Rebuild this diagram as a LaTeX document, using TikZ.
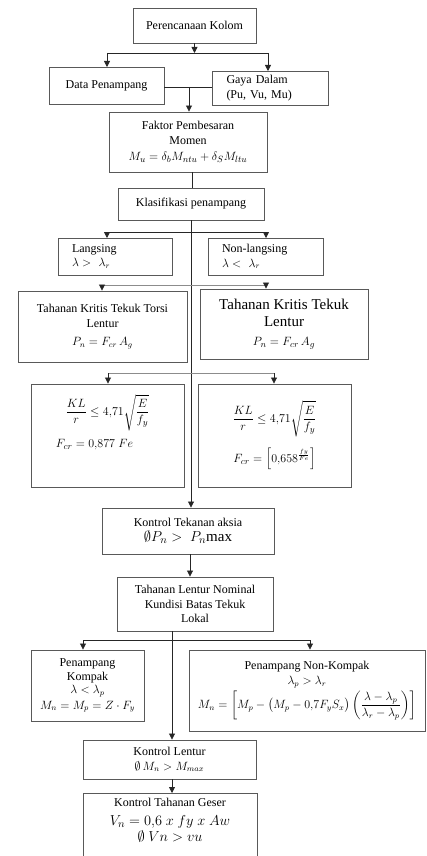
\documentclass[tikz,border=0pt]{standalone}
\usepackage{amsmath}
\usepackage{fontspec}
\setmainfont{Liberation Serif}
\usetikzlibrary{arrows.meta,calc}
\tikzset{
	kotak/.style={draw=black!65, line width=0.9pt, align=center, inner sep=2pt, font=\fontsize{12}{14.5}\selectfont},
	panah/.style={-{Triangle[length=6pt,width=6pt]}, line width=0.8pt, draw=black!85},
	garis/.style={line width=0.8pt, draw=black!85}
}

\begin{document}
\begin{tikzpicture}[x=1pt,y=-1pt]
		%%%%% START %%%%%
		
		\clip (0,0) rectangle (427,856);
		
		\node[kotak, minimum width=123pt, minimum height=35pt] (kolom) at (194.5, 25.5) {Perencanaan Kolom};
		\node[kotak, minimum width=115pt, minimum height=37pt] (data) at (106.5, 85.5) {Data Penampang};
		\node[kotak, minimum width=115pt, minimum height=34pt, text width=88pt, align=left, inner xsep=14pt] (gaya) at (270.5, 88) {Gaya Dalam\\[1pt](Pu, Vu, Mu)};
		
		\node[kotak, minimum width=158pt, minimum height=60pt] (faktor) at (188, 142) {Faktor Pembesaran\\Momen\\[2pt]{\fontsize{13}{15}\selectfont$M_u = \delta_b M_{ntu} + \delta_S M_{ltu}$}};
		\node[kotak, minimum width=146pt, minimum height=32pt] (klas) at (191, 204) {Klasifikasi penampang};
		
		\node[kotak, minimum width=114pt, minimum height=37pt, text width=86pt, align=left, inner xsep=14pt] (langsing) at (115, 256.5) {Langsing\\$\lambda > \ \lambda_r$};
		\node[kotak, minimum width=115pt, minimum height=37pt, text width=87pt, align=left, inner xsep=14pt] (nonlang) at (265.5, 256.5) {Non-langsing\\$\lambda < \ \lambda_r$};
		
		\node[kotak, minimum width=169pt, minimum height=71pt] (torsi) at (102.5, 326.5) {Tahanan Kritis Tekuk Torsi\\[1pt]Lentur\\[3pt]$P_n = F_{cr}\,A_g$};
		\node[kotak, minimum width=168pt, minimum height=70pt, font=\fontsize{15}{17}\selectfont] (lentur) at (284, 324) {Tahanan Kritis Tekuk\\Lentur\\[2pt]{\fontsize{13}{15}\selectfont$P_n = F_{cr}\,A_g$}};
		
		\node[kotak, minimum width=153pt, minimum height=103pt, font=\fontsize{13}{15}\selectfont] (rumus1) at (107.5, 435.5) {$\dfrac{KL}{r} \le 4{,}71\sqrt{\dfrac{E}{f_y}}$\\[8pt]\hspace*{-26pt}$F_{cr} = 0{,}877\ Fe$\\[14pt]};
		\node[kotak, minimum width=153pt, minimum height=103pt, font=\fontsize{13}{15}\selectfont] (rumus2) at (274.5, 435.5) {$\dfrac{KL}{r} \le 4{,}71\sqrt{\dfrac{E}{f_y}}$\\[10pt]$F_{cr} = \left[0{,}658^{\frac{fy}{Fe}}\right]$};
		
		\node[kotak, minimum width=172pt, minimum height=46pt] (aksial) at (188, 531) {Kontrol Tekanan aksia\\[1pt]{\fontsize{15}{17}\selectfont$\emptyset P_n > \ P_n\mathrm{max}$}};
		\node[kotak, minimum width=156pt, minimum height=54pt] (nominal) at (195, 604) {Tahanan Lentur Nominal\\Kundisi Batas Tekuk\\Lokal};
		
		\node[kotak, minimum width=113pt, minimum height=71pt, font=\fontsize{12}{13.5}\selectfont] (kompak) at (87.5, 685.5) {Penampang\\Kompak\\$\lambda < \lambda_p$\\[2pt]$M_n = M_p = Z\cdot F_y$};
		\node[kotak, minimum width=236pt, minimum height=81pt] (nonkompak) at (307, 690.5) {Penampang Non-Kompak\\[1pt]$\lambda_p > \lambda_r$\\[2pt]$M_n = \left[M_p - \bigl(M_p - 0{,}7F_yS_x\bigr)\left(\dfrac{\lambda - \lambda_p}{\lambda_r - \lambda_p}\right)\right]$};
		
		\node[kotak, minimum width=173pt, minimum height=39pt] (klentur) at (169.5, 759.5) {Kontrol Lentur\\$\emptyset\,M_n > M_{max}$};
		\node[kotak, minimum width=174pt, anchor=north, inner ysep=5pt] (geser) at (170, 793) {Kontrol Tahanan Geser\\[4pt]{\fontsize{15}{17}\selectfont$V_n = 0{,}6\ x\ fy\ x\ Aw$}\\[2pt]{\fontsize{14}{16}\selectfont$\emptyset\ Vn > vu$}\\\rule{0pt}{30pt}};
		
		% cabang atas
		\coordinate (c1) at (194.5, 53);
		\draw[panah] (kolom.south) -- (c1);
		\draw[garis] (107, 53) -- (268, 53);
		\draw[panah] (107, 53) -- (107, 67);
		\draw[panah] (268, 53) -- (268, 71);
		
		\draw[garis] (data.east |- 0, 87) -- (gaya.west |- 0, 87);
		\draw[panah] (189, 87) -- (faktor.north -| 189, 0);
		\draw[garis] (faktor.south -| 192, 0) -- (klas.north -| 192, 0);
		
		% garis tengah
		\draw[panah] (klas.south) -- (klas.south |- aksial.north);
		
		\draw[garis] (107, 232) -- (266, 232);
		\draw[panah] (107, 232) -- (107, 238);
		\draw[panah] (266, 232) -- (266, 238);
		
		\draw[garis, draw=black!45] (102, 285) -- (266, 285);
		\draw[panah] (102, 285) -- (torsi.north -| 102, 0);
		\draw[panah] (266, 285) -- (lentur.north -| 266, 0);
		
		\draw[garis, draw=black!45] (108, 373) -- (274, 373);
		\draw[panah] (108, 373) -- (rumus1.north -| 108, 0);
		\draw[panah] (274, 373) -- (rumus2.north -| 274, 0);
		
		\draw[panah] (aksial.south -| 190, 0) -- (nominal.north -| 190, 0);
		
		% cabang bawah
		\draw[panah] (nominal.south -| 172, 0) -- (klentur.north -| 172, 0);
		\draw[garis] (83, 640) -- (310, 640);
		\draw[panah] (83, 640) -- (kompak.north -| 83, 0);
		\draw[panah] (310, 640) -- (nonkompak.north -| 310, 0);
		
		\draw[panah] (klentur.south -| 172, 0) -- (geser.north -| 172, 0);
		
		%%%%% END %%%%%
	\end{tikzpicture}
\end{document}
